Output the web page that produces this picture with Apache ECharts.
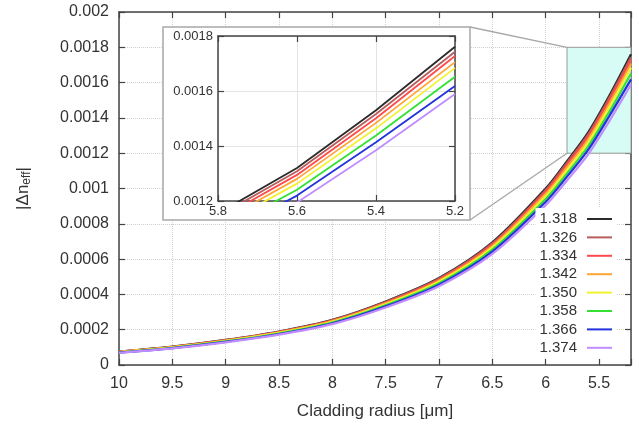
<!DOCTYPE html>
<html>
<head>
<meta charset="utf-8">
<script src="https://cdn.jsdelivr.net/npm/echarts@6/dist/echarts.min.js"></script>
<style>
  html, body { margin: 0; padding: 0; background: #fff; }
  #chart { width: 639px; height: 430px; }
</style>
</head>
<body>
<div id="chart"></div>
<script>
// cladding radius in um (axis runs from 10 down to 5.2)
const radius = [10, 9.5, 9, 8.5, 8, 7.5, 7, 6.5, 6, 5.8, 5.6, 5.4, 5.2];

// |delta n_eff| per cladding index
const n1318 = [0.0000760, 0.0001040, 0.0001420, 0.0001900, 0.0002560, 0.0003600, 0.0004930, 0.0006950, 0.0010000, 0.0011550, 0.0013200, 0.0015300, 0.0017610];
const n1326 = [0.0000753, 0.0001030, 0.0001407, 0.0001883, 0.0002537, 0.0003568, 0.0004886, 0.0006887, 0.0009910, 0.0011446, 0.0013081, 0.0015162, 0.0017430];
const n1334 = [0.0000746, 0.0001020, 0.0001393, 0.0001864, 0.0002511, 0.0003532, 0.0004836, 0.0006818, 0.0009810, 0.0011331, 0.0012949, 0.0015009, 0.0017270];
const n1342 = [0.0000737, 0.0001009, 0.0001377, 0.0001843, 0.0002483, 0.0003492, 0.0004782, 0.0006742, 0.0009700, 0.0011204, 0.0012804, 0.0014841, 0.0017050];
const n1350 = [0.0000727, 0.0000995, 0.0001359, 0.0001818, 0.0002450, 0.0003445, 0.0004718, 0.0006651, 0.0009570, 0.0011053, 0.0012632, 0.0014642, 0.0016840];
const n1358 = [0.0000714, 0.0000978, 0.0001335, 0.0001786, 0.0002406, 0.0003384, 0.0004634, 0.0006533, 0.0009400, 0.0010857, 0.0012408, 0.0014382, 0.0016520];
const n1366 = [0.0000702, 0.0000961, 0.0001312, 0.0001756, 0.0002365, 0.0003326, 0.0004555, 0.0006422, 0.0009240, 0.0010672, 0.0012197, 0.0014137, 0.0016180];
const n1374 = [0.0000688, 0.0000941, 0.0001285, 0.0001720, 0.0002317, 0.0003258, 0.0004462, 0.0006290, 0.0009050, 0.0010453, 0.0011946, 0.0013847, 0.0015890];

const names = ['1.318', '1.326', '1.334', '1.342', '1.350', '1.358', '1.366', '1.374'];
const values = [n1318, n1326, n1334, n1342, n1350, n1358, n1366, n1374];
const colors = ['#2b2b2b', '#b85c5c', '#ff4a4a', '#ffa436', '#f2f230', '#33e033', '#2233dd', '#c08cff'];

// zoom window shown in the inset
const zoomX = [5.8, 5.2];
const zoomY = [0.0012, 0.0018];

const FONT = 'Liberation Sans, Arial, sans-serif';
const AXIS_COLOR = '#444';

const chart = echarts.init(document.getElementById('chart'));

// x is plotted as -radius so the axis runs 10 -> 5.2 left to right
function radiusLabel(v) {
  const r = -v;
  if (Math.abs(r * 2 - Math.round(r * 2)) > 1e-6) return '';
  return String(+r.toFixed(1));
}

function boxAxis(extra) {
  return Object.assign({
    type: 'value',
    axisLine: { show: true, onZero: false, lineStyle: { color: AXIS_COLOR, width: 1.5 } },
    axisTick: { show: true, inside: true, length: 6, lineStyle: { color: AXIS_COLOR, width: 1.2 } },
    splitLine: { show: false },
    axisLabel: { show: false }
  }, extra);
}

const xAxes = [
  boxAxis({
    gridIndex: 0, position: 'bottom', min: -10, max: -5.2, interval: 0.5,
    axisLabel: { show: true, formatter: radiusLabel, fontSize: 16, color: '#333', fontFamily: FONT, margin: 11 },
    splitLine: { show: true, lineStyle: { type: 'dotted', color: '#cfcfcf' } },
    name: 'Cladding radius [\u03bcm]', nameLocation: 'middle', nameGap: 38,
    nameTextStyle: { fontSize: 17, color: '#333', fontFamily: FONT }
  }),
  boxAxis({ gridIndex: 0, position: 'top', min: -10, max: -5.2, interval: 0.5 }),
  boxAxis({
    gridIndex: 1, position: 'bottom', min: -zoomX[0], max: -zoomX[1], interval: 0.2, z: 5,
    axisLabel: { show: true, formatter: v => (-v).toFixed(1), fontSize: 13, color: '#333', fontFamily: FONT, margin: 4 },
    splitLine: { show: true, lineStyle: { color: '#e4e4e4' } }
  }),
  boxAxis({ gridIndex: 1, position: 'top', min: -zoomX[0], max: -zoomX[1], interval: 0.2, z: 5 })
];

const yAxes = [
  boxAxis({
    gridIndex: 0, position: 'left', min: 0, max: 0.002, interval: 0.0002,
    axisLabel: { show: true, formatter: v => String(+v.toFixed(4)), fontSize: 16, color: '#333', fontFamily: FONT, margin: 10 },
    splitLine: { show: true, lineStyle: { type: 'dotted', color: '#cfcfcf' } },
    name: '|\u0394n{s|eff}|', nameLocation: 'middle', nameGap: 86, nameRotate: 90,
    nameTextStyle: {
      fontSize: 17, color: '#333', fontFamily: FONT,
      rich: { s: { fontSize: 12, color: '#333', fontFamily: FONT, verticalAlign: 'bottom', padding: [8, 0, 0, 0] } }
    }
  }),
  boxAxis({ gridIndex: 0, position: 'right', min: 0, max: 0.002, interval: 0.0002 }),
  boxAxis({
    gridIndex: 1, position: 'left', min: zoomY[0], max: zoomY[1], interval: 0.0002, z: 5,
    axisLabel: { show: true, formatter: v => v.toFixed(4), fontSize: 13, color: '#333', fontFamily: FONT, margin: 5 },
    splitLine: { show: true, lineStyle: { color: '#e4e4e4' } }
  }),
  boxAxis({ gridIndex: 1, position: 'right', min: zoomY[0], max: zoomY[1], interval: 0.0002, z: 5 })
];

const series = [];
names.forEach((name, i) => {
  const data = radius.map((r, k) => [-r, values[i][k]]);
  const main = {
    name: name,
    type: 'line',
    xAxisIndex: 0,
    yAxisIndex: 0,
    data: data,
    smooth: 0.3,
    showSymbol: false,
    color: colors[i],
    lineStyle: { width: 2.2, color: colors[i] },
    z: 3
  };
  if (i === 0) {
    main.markArea = {
      silent: true,
      itemStyle: { color: '#d7fbf5', borderColor: '#9a9a9a', borderWidth: 1 },
      data: [[{ coord: [-zoomX[0], zoomY[0]] }, { coord: [-zoomX[1], zoomY[1]] }]]
    };
  }
  series.push(main);
  series.push({
    name: name,
    type: 'line',
    xAxisIndex: 2,
    yAxisIndex: 2,
    data: data,
    showSymbol: false,
    color: colors[i],
    lineStyle: { width: 1.8, color: colors[i] },
    z: 6
  });
});

chart.setOption({
  animation: false,
  backgroundColor: '#fff',
  textStyle: { fontFamily: FONT },
  grid: [
    { left: 119, right: 8, top: 12, bottom: 65 },
    { left: 218, top: 36, width: 237, height: 165, z: 5 }
  ],
  xAxis: xAxes,
  yAxis: yAxes,
  legend: {
    data: names,
    orient: 'vertical',
    right: 23,
    top: 208,
    align: 'right',
    icon: 'rect',
    itemWidth: 25,
    itemHeight: 2,
    itemGap: 2.4,
    backgroundColor: '#fff',
    padding: [3, 4],
    textStyle: { fontSize: 15, lineHeight: 16, color: '#333', fontFamily: FONT, padding: [0, 5, 0, 0] },
    z: 8
  },
  series: series
});

// inset frame and the two lines joining it to the highlighted region
const topLeft = chart.convertToPixel({ xAxisIndex: 0, yAxisIndex: 0 }, [-zoomX[0], zoomY[1]]);
const botLeft = chart.convertToPixel({ xAxisIndex: 0, yAxisIndex: 0 }, [-zoomX[0], zoomY[0]]);
const frame = { x: 163, y: 27, width: 307, height: 193 };

chart.setOption({
  graphic: [
    {
      type: 'rect', z: 1,
      shape: frame,
      style: { fill: '#fff', stroke: '#a8a8a8', lineWidth: 1.5 }
    },
    {
      type: 'line', z: 1,
      shape: { x1: frame.x + frame.width, y1: frame.y, x2: topLeft[0], y2: topLeft[1] },
      style: { stroke: '#a8a8a8', lineWidth: 1.3 }
    },
    {
      type: 'line', z: 1,
      shape: { x1: frame.x + frame.width, y1: frame.y + frame.height, x2: botLeft[0], y2: botLeft[1] },
      style: { stroke: '#a8a8a8', lineWidth: 1.3 }
    }
  ]
});
</script>
</body>
</html>
